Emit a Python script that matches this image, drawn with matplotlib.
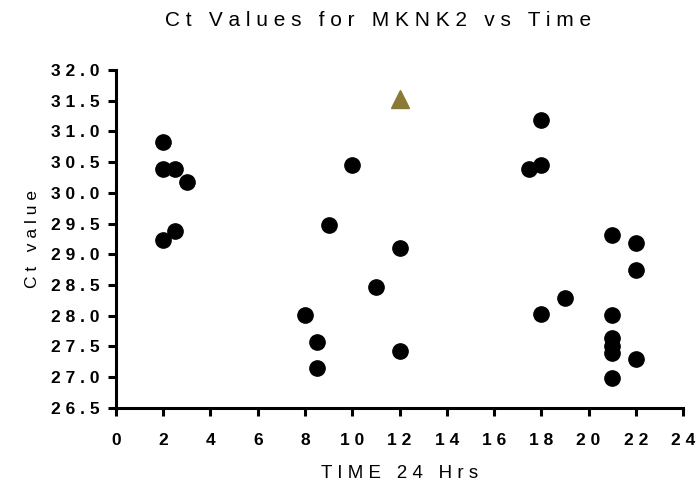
import matplotlib.pyplot as plt
import numpy as np

# Ct values per time point (hours)
time_hrs = [2, 2, 2.5, 3, 2.5, 2,
            8, 8.5, 8.5, 9, 10, 11, 12, 12,
            17.5, 18, 18, 18, 19,
            21, 21, 21, 21, 21, 21, 22, 22, 22]
ct_vals = [30.82, 30.38, 30.38, 30.17, 29.37, 29.23,
           28.01, 27.58, 27.15, 29.47, 30.45, 28.47, 29.10, 27.43,
           30.38, 30.45, 31.18, 28.03, 28.29,
           29.32, 28.02, 27.63, 27.50, 27.39, 26.99, 29.18, 28.75, 27.29]

# single outlier sample
outlier_time = [12]
outlier_ct = [31.52]

yticks = np.arange(26.5, 32.01, 0.5)
xticks = np.arange(0, 25, 2)


def spaced(s, sep=' '):
    return sep.join(s)


plt.rcParams['font.family'] = ['Liberation Sans', 'DejaVu Sans']

fig = plt.figure(figsize=(6.97, 4.88), dpi=100)
ax = fig.add_axes([0.1664, 0.164, 0.8136, 0.693])

ax.plot(time_hrs, ct_vals, 'o', color='black', markersize=11, clip_on=False)
ax.plot(outlier_time, outlier_ct, '^', color='#8a7a36', markersize=13, clip_on=False)

ax.set_xlim(0, 24)
ax.set_ylim(26.5, 32.0)
ax.set_xticks(xticks)
ax.set_yticks(yticks)
ax.set_xticklabels([spaced(str(t)) for t in xticks], fontweight='bold', fontsize=12.5)
ax.set_yticklabels([spaced('%.1f' % v) for v in yticks], fontweight='bold', fontsize=12.5)

for side in ['top', 'right']:
    ax.spines[side].set_visible(False)
for side in ['left', 'bottom']:
    ax.spines[side].set_linewidth(2.2)
ax.tick_params(direction='out', length=6, width=2.2, color='black')
ax.tick_params(axis='x', pad=12)
ax.tick_params(axis='y', pad=6)

ax.set_xlabel(spaced('TIME 24 Hrs'), fontsize=13.5, labelpad=12)
ax.set_ylabel(spaced('Ct value'), fontsize=12.5, labelpad=8)
fig.text(378 / 697, 1 - 21 / 488, spaced('Ct Values for MKNK2 vs Time'),
         ha='center', va='center', fontsize=15)

fig.savefig('out.png', dpi=100)
